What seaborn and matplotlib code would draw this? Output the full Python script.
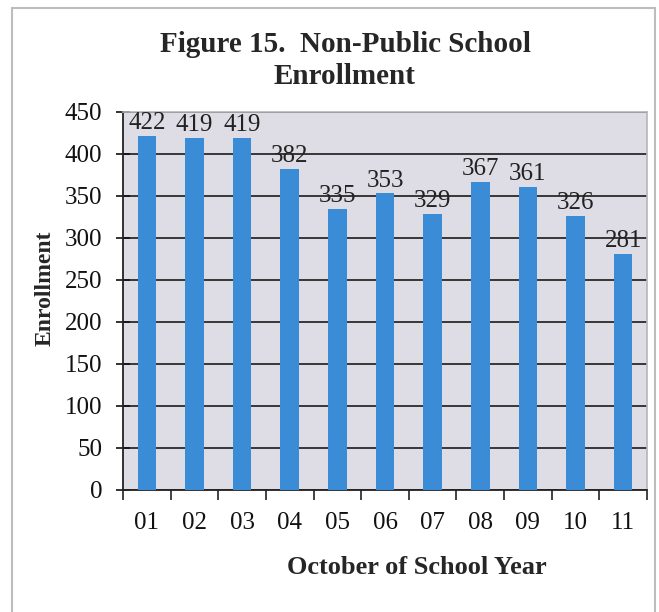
import matplotlib
matplotlib.use('Agg')
import matplotlib.pyplot as plt
import seaborn as sns
import pandas as pd
from matplotlib.patches import Rectangle

# data
years = ['01', '02', '03', '04', '05', '06', '07', '08', '09', '10', '11']
enrollment = [422, 419, 419, 382, 335, 353, 329, 367, 361, 326, 281]

df = pd.DataFrame({'year': years, 'enrollment': enrollment})

sns.set_theme(style='white')
plt.rcParams['font.family'] = ['Liberation Serif', 'DejaVu Serif']

fig = plt.figure(figsize=(6.59, 6.12), dpi=100)
ax = fig.add_axes([123 / 659, 1 - 490 / 612, 524 / 659, 378 / 612])
ax.set_facecolor('#dedde5')

sns.barplot(x='year', y='enrollment', data=df, color='#3a8cd6', width=0.39,
            saturation=1, linewidth=0, ax=ax, zorder=3)

ax.set_ylim(0, 450)
ax.set_yticks(range(0, 451, 50))
ax.set_xlim(-0.5, 10.5)
ax.yaxis.grid(True, color='#2a2a2a', linewidth=1.3, zorder=0)
ax.set_axisbelow(True)
for s in ['top', 'right']:
    ax.spines[s].set_color('#b5b5b8')
    ax.spines[s].set_linewidth(1.2)
for s in ['left', 'bottom']:
    ax.spines[s].set_color('#222222')
    ax.spines[s].set_linewidth(1.3)

# value labels
for i, v in enumerate(enrollment):
    ax.text(i, v + 2, str(v), ha='center', va='bottom', fontsize=18, color='#222222', zorder=4)

# ticks at category boundaries on x, crossing on y
ax.set_xticks([i - 0.5 for i in range(12)], minor=True)
ax.tick_params(axis='x', which='major', length=0, labelsize=18, pad=16, colors='#111111')
ax.tick_params(axis='x', which='minor', bottom=True, direction='out', length=7, width=1.2, color='#222222')
ax.tick_params(axis='y', left=True, direction='inout', length=10, width=1.2, labelsize=18,
               colors='#111111', pad=10)

ax.set_xlabel('October of School Year', fontsize=19, fontweight='bold')
ax.xaxis.set_label_coords((417 - 123) / 524, -(567 - 490) / 378)
ax.xaxis.label.set_va('center')
ax.set_ylabel('Enrollment', fontsize=17, fontweight='bold')
ax.yaxis.set_label_coords(-(123 - 45) / 524, (490 - 288) / 378)
ax.yaxis.label.set_va('center')

fig.text(345 / 659, 1 - 45 / 612, 'Figure 15.  Non-Public School', ha='center', va='center',
         fontsize=21, fontweight='bold')
fig.text(345 / 659, 1 - 76 / 612, 'Enrollment', ha='center', va='center',
         fontsize=21, fontweight='bold')

# frame around the figure
fig.patches.append(Rectangle((12 / 659, -0.05), 643 / 659, 1.05 - 8 / 612, transform=fig.transFigure,
                             fill=False, edgecolor='#bdbdbd', linewidth=1.5))

fig.savefig('out.png', dpi=100)
